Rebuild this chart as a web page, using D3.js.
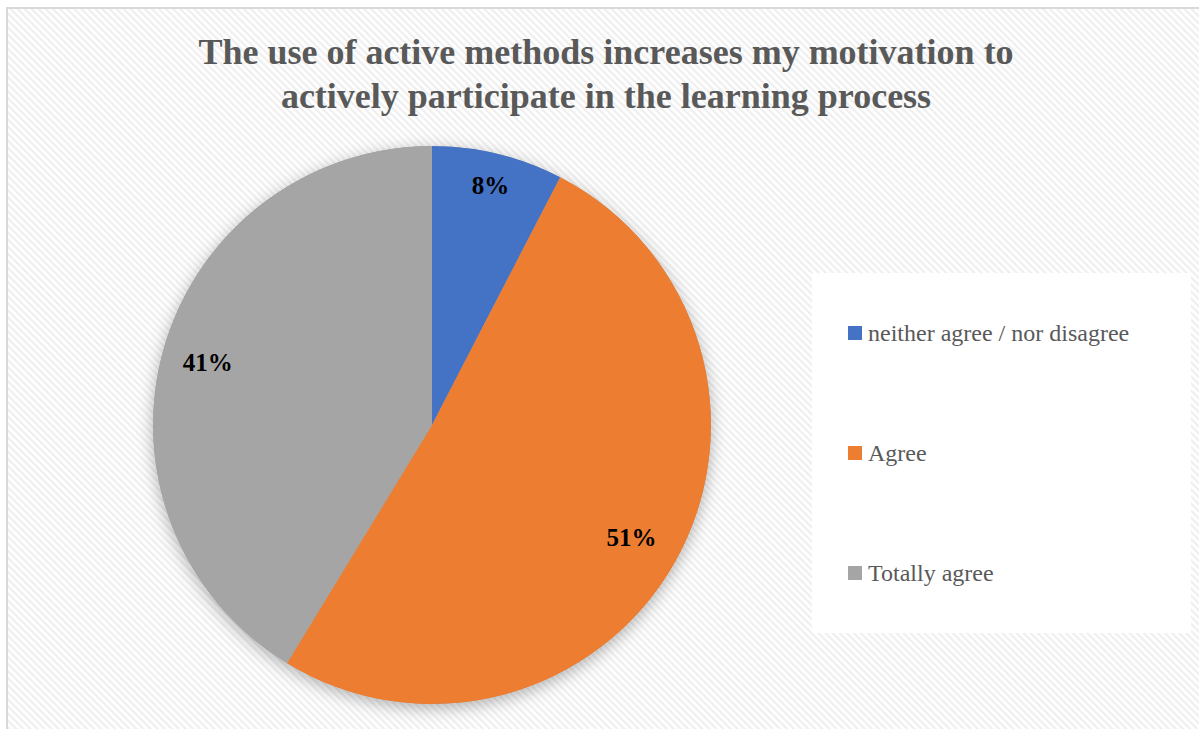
<!DOCTYPE html>
<html>
<head>
<meta charset="utf-8">
<script src="https://cdn.jsdelivr.net/npm/d3@7"></script>
<style>
  body { margin: 0; background: #fff; }
  svg { display: block; }
</style>
</head>
<body>
<div id="canvas"></div>
<script>
// data
const categories = ["neither agree / nor disagree", "Agree", "Totally agree"];
const values = [7.6, 51.1, 41.3];
const colors = ["#4472c4", "#ed7d31", "#a5a5a5"];
const titleLines = [
  "The use of active methods increases my motivation to",
  "actively participate in the learning process"
];

const FONT = "Liberation Serif";
const width = 1199, height = 729;
const cx = 432, cy = 425, radius = 279;

const svg = d3.select("#canvas").append("svg")
  .attr("width", width)
  .attr("height", height)
  .attr("font-family", FONT);

const defs = svg.append("defs");

// diagonal stripe background
const pat = defs.append("pattern")
  .attr("id", "stripes")
  .attr("patternUnits", "userSpaceOnUse")
  .attr("width", 5)
  .attr("height", 5)
  .attr("patternTransform", "rotate(-45)");
pat.append("rect").attr("width", 5).attr("height", 5).attr("fill", "#ffffff");
pat.append("rect").attr("width", 2.2).attr("height", 5).attr("fill", "#efefef");

// soft shadow for the pie
const filt = defs.append("filter")
  .attr("id", "shadow")
  .attr("x", "-20%").attr("y", "-20%")
  .attr("width", "140%").attr("height", "140%");
filt.append("feDropShadow")
  .attr("dx", 0).attr("dy", 4)
  .attr("stdDeviation", 8)
  .attr("flood-color", "#000")
  .attr("flood-opacity", 0.3);

svg.append("rect")
  .attr("x", 0).attr("y", 0)
  .attr("width", width).attr("height", height)
  .attr("fill", "#fff");

svg.append("rect")
  .attr("x", 7).attr("y", 8)
  .attr("width", width).attr("height", height)
  .attr("fill", "url(#stripes)")
  .attr("stroke", "#d9d9d9")
  .attr("stroke-width", 2);

// title
svg.append("text")
  .attr("x", 606)
  .attr("y", 64)
  .attr("text-anchor", "middle")
  .attr("font-family", FONT)
  .attr("font-weight", "bold")
  .attr("font-size", 36)
  .attr("fill", "#595959")
  .selectAll("tspan")
  .data(titleLines)
  .enter()
  .append("tspan")
  .attr("x", 606)
  .attr("dy", (d, i) => i === 0 ? 0 : 44)
  .text(d => d);

// pie
const total = d3.sum(values);
const pie = d3.pie().sort(null).value(d => d.value);
const arcs = pie(categories.map((c, i) => ({ name: c, value: values[i], color: colors[i] })));

const arc = d3.arc().innerRadius(0).outerRadius(radius);

const g = svg.append("g").attr("transform", `translate(${cx},${cy})`);

g.append("circle")
  .attr("r", radius)
  .attr("fill", "#a5a5a5")
  .attr("filter", "url(#shadow)");

g.selectAll("path.slice")
  .data(arcs)
  .enter()
  .append("path")
  .attr("class", "slice")
  .attr("d", arc)
  .attr("fill", d => d.data.color);

// label distance from centre, as a share of the radius
const labelR = [0.885, 0.82, 0.835];
g.selectAll("text.lbl")
  .data(arcs)
  .enter()
  .append("text")
  .attr("class", "lbl")
  .attr("transform", (d, i) => {
    const a = (d.startAngle + d.endAngle) / 2;
    const r = radius * labelR[i];
    return `translate(${Math.sin(a) * r},${-Math.cos(a) * r})`;
  })
  .attr("text-anchor", "middle")
  .attr("dy", "0.35em")
  .attr("font-family", FONT)
  .attr("font-weight", "bold")
  .attr("font-size", 25)
  .attr("fill", "#000")
  .text(d => Math.round(d.data.value / total * 100) + "%");

// legend
const legend = svg.append("g");
legend.append("rect")
  .attr("x", 812).attr("y", 273)
  .attr("width", 379).attr("height", 360)
  .attr("fill", "#fff");

const items = legend.selectAll("g.item")
  .data(arcs)
  .enter()
  .append("g")
  .attr("class", "item")
  .attr("transform", (d, i) => `translate(848,${333 + i * 120})`);

items.append("rect")
  .attr("x", 0).attr("y", -7)
  .attr("width", 14).attr("height", 14)
  .attr("fill", d => d.data.color);

items.append("text")
  .attr("x", 20)
  .attr("y", 0)
  .attr("dy", "0.35em")
  .attr("font-family", FONT)
  .attr("font-size", 24)
  .attr("fill", "#595959")
  .text(d => d.data.name);
</script>
</body>
</html>
